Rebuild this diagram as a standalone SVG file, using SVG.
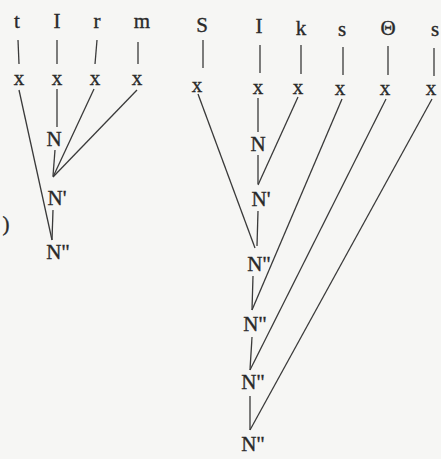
<svg xmlns="http://www.w3.org/2000/svg" width="441" height="459" viewBox="0 0 441 459">
<style>
text{font-family:"Liberation Serif","Times New Roman",serif;font-size:21px;fill:#2a2a2a;stroke:#2a2a2a;stroke-width:0.35;text-anchor:middle}
.e line{stroke:#3a3a3a;stroke-width:1.3;fill:none}
</style>
<rect width="441" height="459" fill="#f6f6f4"/>
<g class="e" id="connectors">
<line x1="18" y1="40" x2="19" y2="64"/>
<line x1="57" y1="40" x2="57" y2="64"/>
<line x1="97" y1="40" x2="95" y2="64"/>
<line x1="138" y1="42" x2="138" y2="64"/>
<line x1="57" y1="89" x2="57" y2="127"/>
<line x1="55" y1="150" x2="53" y2="176"/>
<line x1="94" y1="89" x2="53" y2="177"/>
<line x1="137" y1="90" x2="53" y2="177"/>
<line x1="53" y1="210" x2="52" y2="240"/>
<line x1="19" y1="90" x2="52" y2="240"/>
<line x1="203" y1="40" x2="203" y2="68"/>
<line x1="260" y1="45" x2="260" y2="73"/>
<line x1="301" y1="45" x2="301" y2="74"/>
<line x1="343" y1="47" x2="343" y2="75"/>
<line x1="388" y1="46" x2="388" y2="75"/>
<line x1="434" y1="48" x2="434" y2="76"/>
<line x1="258" y1="98" x2="258" y2="132"/>
<line x1="258" y1="155" x2="258" y2="184"/>
<line x1="298" y1="97" x2="258" y2="185"/>
<line x1="258" y1="211" x2="257" y2="246"/>
<line x1="198" y1="94" x2="255" y2="248"/>
<line x1="253" y1="276" x2="252" y2="310"/>
<line x1="342" y1="99" x2="252" y2="310"/>
<line x1="252" y1="337" x2="250" y2="370"/>
<line x1="386" y1="99" x2="250" y2="370"/>
<line x1="250" y1="396" x2="250" y2="430"/>
<line x1="432" y1="99" x2="250" y2="430"/>
</g>
<g id="paren"><text x="6" y="231">)</text></g>
<g id="t"><text x="17" y="28">t</text></g>
<g id="I1"><text x="57" y="28">I</text></g>
<g id="r"><text x="97" y="28">r</text></g>
<g id="m"><text x="142" y="28">m</text></g>
<g id="x1"><text x="19" y="85">x</text></g>
<g id="x2"><text x="57" y="85">x</text></g>
<g id="x3"><text x="95" y="85">x</text></g>
<g id="x4"><text x="137" y="85">x</text></g>
<g id="N1"><text x="54" y="146">N</text></g>
<g id="N1p"><text x="57" y="205">N'</text></g>
<g id="N1pp"><text x="58" y="259">N"</text></g>
<g id="S"><text x="202" y="32">S</text></g>
<g id="I2"><text x="259" y="33">I</text></g>
<g id="k"><text x="301" y="35">k</text></g>
<g id="s1"><text x="342" y="36">s</text></g>
<g id="theta"><text x="388" y="35">Θ</text></g>
<g id="s2"><text x="435" y="36">s</text></g>
<g id="y1"><text x="197" y="92">x</text></g>
<g id="y2"><text x="258" y="94">x</text></g>
<g id="y3"><text x="298" y="94">x</text></g>
<g id="y4"><text x="340" y="95">x</text></g>
<g id="y5"><text x="385" y="95">x</text></g>
<g id="y6"><text x="431" y="95">x</text></g>
<g id="N2"><text x="258" y="151">N</text></g>
<g id="N2p"><text x="261" y="206">N'</text></g>
<g id="N2pp1"><text x="259" y="271">N"</text></g>
<g id="N2pp2"><text x="255" y="331">N"</text></g>
<g id="N2pp3"><text x="253" y="389">N"</text></g>
<g id="N2pp4"><text x="253" y="451">N"</text></g>
</svg>
